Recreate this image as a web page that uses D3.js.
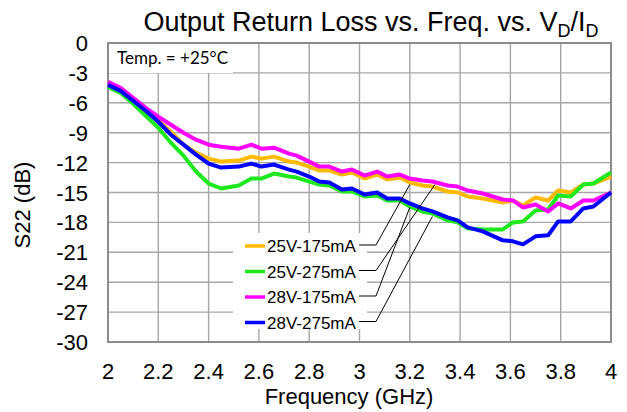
<!DOCTYPE html>
<html>
<head>
<meta charset="utf-8">
<script src="https://cdn.jsdelivr.net/npm/d3@7"></script>
<style>
  html, body { margin: 0; padding: 0; background: #fff; }
  svg text { font-family: "Liberation Sans", Arial, sans-serif; fill: #000; }
</style>
</head>
<body>
<svg id="chart" width="627" height="412"></svg>
<script>
// frequencies (GHz)
var freqs = [2.00, 2.05, 2.10, 2.15, 2.20, 2.25, 2.30, 2.35, 2.40, 2.45,
  2.52, 2.57, 2.61, 2.66, 2.72, 2.75, 2.80, 2.84, 2.88, 2.93,
  2.97, 3.02, 3.07, 3.11, 3.16, 3.20, 3.25, 3.29, 3.35, 3.39,
  3.43, 3.49, 3.57, 3.61, 3.65, 3.70, 3.75, 3.79, 3.84, 3.89,
  3.93, 4.00];

// S22 (dB) per bias condition
var s22_25v175 = [-4.1, -4.7, -5.7, -6.7, -7.8, -8.9, -10.2, -11.0, -11.6, -11.9,
  -11.8, -11.4, -11.6, -11.4, -11.9, -12.0, -12.4, -12.8, -12.8, -13.2,
  -13.0, -13.6, -13.2, -13.7, -13.5, -14.0, -14.3, -14.4, -14.9, -15.0,
  -15.4, -15.6, -16.0, -15.8, -16.3, -15.5, -15.8, -14.8, -15.0, -14.2,
  -14.1, -13.4];
var s22_25v275 = [-4.4, -5.0, -6.1, -7.3, -8.5, -10.0, -11.3, -12.9, -14.1, -14.6,
  -14.3, -13.6, -13.6, -13.1, -13.4, -13.5, -13.9, -14.2, -14.3, -14.9,
  -14.9, -15.4, -15.3, -15.8, -15.8, -16.4, -16.9, -17.1, -17.8, -18.0,
  -18.6, -18.7, -18.7, -18.0, -17.9, -16.8, -16.7, -15.3, -15.4, -14.2,
  -14.1, -13.0];
var s22_28v175 = [-3.9, -4.5, -5.5, -6.5, -7.4, -8.2, -9.0, -9.7, -10.2, -10.4,
  -10.6, -10.2, -10.6, -10.5, -11.1, -11.3, -11.9, -12.4, -12.4, -12.9,
  -12.7, -13.3, -12.9, -13.4, -13.2, -13.6, -13.8, -13.9, -14.3, -14.4,
  -14.8, -15.1, -15.7, -15.8, -16.5, -16.2, -16.9, -16.1, -16.6, -15.8,
  -15.8, -15.0];
var s22_28v275 = [-4.2, -4.8, -5.8, -6.8, -7.9, -9.2, -10.2, -11.2, -12.1, -12.5,
  -12.4, -12.1, -12.4, -12.2, -12.7, -12.9, -13.4, -13.9, -14.0, -14.7,
  -14.6, -15.2, -15.0, -15.6, -15.6, -16.1, -16.6, -16.9, -17.5, -17.8,
  -18.5, -18.9, -19.8, -19.9, -20.2, -19.4, -19.3, -17.9, -17.9, -16.6,
  -16.4, -15.0];

var seriesNames = ['25V-175mA', '25V-275mA', '28V-175mA', '28V-275mA'];
var seriesColors = ['#ffb900', '#1ee81e', '#ff00ff', '#0000ff'];
var seriesValues = [s22_25v175, s22_25v275, s22_28v175, s22_28v275];

// where each legend leader line touches the curves (GHz, dB)
var leaderFreqs = [3.20, 3.30, 3.20, 3.29];
var leaderDb = [-14.2, -14.2, -16.5, -17.4];

var xTicks = [2, 2.2, 2.4, 2.6, 2.8, 3, 3.2, 3.4, 3.6, 3.8, 4];
var yTicks = [0, -3, -6, -9, -12, -15, -18, -21, -24, -27, -30];

var svg = d3.select('#chart'),
    margin = {left: 108, right: 16, top: 43, bottom: 70},
    width = 627 - margin.left - margin.right,
    height = 412 - margin.top - margin.bottom;

var x = d3.scaleLinear().domain([2, 4]).range([margin.left, margin.left + width]),
    y = d3.scaleLinear().domain([0, -30]).range([margin.top, margin.top + height]);

// grid
var grid = svg.append('g').attr('class', 'grid');
grid.selectAll('line.v').data(xTicks.slice(1, -1)).enter().append('line')
  .attr('x1', d => x(d)).attr('x2', d => x(d))
  .attr('y1', y(0)).attr('y2', y(-30))
  .attr('stroke', '#a6a6a6').attr('stroke-width', 1.4);
grid.selectAll('line.h').data(yTicks.slice(1, -1)).enter().append('line')
  .attr('x1', x(2)).attr('x2', x(4))
  .attr('y1', d => y(d)).attr('y2', d => y(d))
  .attr('stroke', '#a6a6a6').attr('stroke-width', 1.4);

// white boxes that sit over the grid (temp note + legend)
svg.append('rect')
  .attr('x', x(2)).attr('y', y(0))
  .attr('width', 125).attr('height', 30)
  .attr('fill', '#fff');
svg.append('rect')
  .attr('x', 233).attr('y', 233)
  .attr('width', 134).attr('height', 96)
  .attr('fill', '#fff');

// plot border
svg.append('rect')
  .attr('x', x(2)).attr('y', y(0))
  .attr('width', width).attr('height', height)
  .attr('fill', 'none').attr('stroke', '#8c8c8c').attr('stroke-width', 2);

svg.append('text')
  .attr('x', 117).attr('y', 64)
  .style('font-family', 'Lato, "Open Sans", sans-serif')
  .style('font-size', '17px')
  .text('Temp. = +25°C');

// series
var line = d3.line()
  .x((d, i) => x(freqs[i]))
  .y(d => y(d));
svg.append('g').selectAll('path').data(seriesValues).enter().append('path')
  .attr('d', d => line(d))
  .attr('fill', 'none')
  .attr('stroke', (d, i) => seriesColors[i])
  .attr('stroke-width', 4)
  .attr('stroke-linejoin', 'round');

// legend
var rowY = i => 246 + i * 25.5;
var legend = svg.append('g').attr('class', 'legend');
seriesNames.forEach(function (name, i) {
  legend.append('line')
    .attr('x1', 245).attr('x2', 265)
    .attr('y1', rowY(i)).attr('y2', rowY(i))
    .attr('stroke', seriesColors[i]).attr('stroke-width', 3.5);
  legend.append('text')
    .attr('x', 267).attr('y', rowY(i) + 6)
    .style('font-size', '17px')
    .text(name);
  legend.append('polyline')
    .attr('points', [[359, rowY(i) - 1], [376, rowY(i) - 1],
                     [x(leaderFreqs[i]), y(leaderDb[i])]].join(' '))
    .attr('fill', 'none').attr('stroke', '#000').attr('stroke-width', 1);
});

// axes labels
svg.append('g').selectAll('text').data(yTicks).enter().append('text')
  .attr('x', 88).attr('y', d => y(d) + 8)
  .attr('text-anchor', 'end')
  .style('font-size', '22px')
  .text(d => d);
svg.append('g').selectAll('text').data(xTicks).enter().append('text')
  .attr('x', d => x(d)).attr('y', 379)
  .attr('text-anchor', 'middle')
  .style('font-size', '22px')
  .text(d => d);

svg.append('text')
  .attr('x', 349).attr('y', 404)
  .attr('text-anchor', 'middle')
  .style('font-size', '22px')
  .text('Frequency (GHz)');
svg.append('text')
  .attr('transform', 'translate(30,205) rotate(-90)')
  .attr('text-anchor', 'middle')
  .style('font-size', '22px')
  .text('S22 (dB)');

// title with subscripts
var title = svg.append('text')
  .attr('x', 371).attr('y', 31)
  .attr('text-anchor', 'middle')
  .style('font-size', '27px');
title.append('tspan').text('Output Return Loss vs. Freq. vs. V');
title.append('tspan').attr('dy', 6).style('font-size', '18px').text('D');
title.append('tspan').attr('dy', -6).text('/I');
title.append('tspan').attr('dy', 6).style('font-size', '18px').text('D');
</script>
</body>
</html>
